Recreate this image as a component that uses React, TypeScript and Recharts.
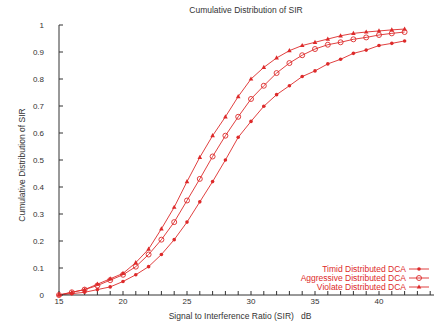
import React from "react";
import { LineChart, Line, XAxis, YAxis } from "recharts";

const sir = [15, 16, 17, 18, 19, 20, 21, 22, 23, 24, 25, 26, 27, 28, 29, 30, 31, 32, 33, 34, 35, 36, 37, 38, 39, 40, 41, 42];

const timid = [0, 0.005, 0.01, 0.02, 0.03, 0.05, 0.075, 0.105, 0.15, 0.205, 0.27, 0.345, 0.42, 0.5, 0.584, 0.643, 0.699, 0.742, 0.775, 0.809, 0.83, 0.856, 0.873, 0.895, 0.907, 0.924, 0.932, 0.941];
const aggressive = [0, 0.01, 0.02, 0.035, 0.055, 0.075, 0.105, 0.15, 0.205, 0.27, 0.35, 0.43, 0.513, 0.59, 0.66, 0.726, 0.775, 0.822, 0.859, 0.888, 0.911, 0.927, 0.936, 0.947, 0.954, 0.963, 0.969, 0.974];
const violate = [0, 0.01, 0.02, 0.04, 0.06, 0.08, 0.12, 0.17, 0.245, 0.325, 0.42, 0.51, 0.59, 0.66, 0.735, 0.8, 0.843, 0.878, 0.905, 0.924, 0.936, 0.948, 0.96, 0.969, 0.974, 0.978, 0.982, 0.985];

const xTicks = [15, 16, 17, 18, 19, 20, 21, 22, 23, 24, 25, 26, 27, 28, 29, 30, 31, 32, 33, 34, 35, 36, 37, 38, 39, 40, 41, 42, 43, 44, 45];
const xLabels = [15, 20, 25, 30, 35, 40];
const yTicks = [0, 0.1, 0.2, 0.3, 0.4, 0.5, 0.6, 0.7, 0.8, 0.9, 1];

const RED = "#dd2a2a";
const FONT = "'Liberation Sans', Arial, sans-serif";

const data = sir.map((x, i) => ({
  x,
  timid: timid[i],
  aggressive: aggressive[i],
  violate: violate[i],
}));

const DotFilled = (props: any) => {
  const { cx, cy } = props;
  return <circle cx={cx} cy={cy} r={1.8} fill={RED} stroke="none" />;
};

const DotOpen = (props: any) => {
  const { cx, cy } = props;
  return <circle cx={cx} cy={cy} r={2.5} fill="none" stroke={RED} strokeWidth={0.9} />;
};

const DotTriangle = (props: any) => {
  const { cx, cy } = props;
  return (
    <polygon
      points={`${cx},${cy - 2.6} ${cx - 2.3},${cy + 1.6} ${cx + 2.3},${cy + 1.6}`}
      fill={RED}
      stroke="none"
    />
  );
};

const legendRows = [
  { label: "Timid Distributed DCA", kind: "filled", y: 269 },
  { label: "Aggressive Distributed DCA", kind: "open", y: 278 },
  { label: "Violate Distributed DCA", kind: "tri", y: 287 },
];

export default function App() {
  const tickStyle = { fontSize: 8, fill: "#333", fontFamily: FONT };
  return (
    <div style={{ position: "absolute", left: 0, top: 0, width: 434, height: 327, overflow: "hidden", background: "white", fontFamily: FONT }}>
      <LineChart
        width={446}
        height={327}
        data={data}
        margin={{ top: 25, right: 3, bottom: 0, left: 0 }}
      >
        <XAxis
          dataKey="x"
          type="number"
          domain={[15, 45]}
          ticks={xTicks}
          interval={0}
          tickFormatter={(v: number) => (xLabels.includes(v) ? String(v) : "")}
          tick={tickStyle}
          tickSize={-4}
          tickMargin={7}
          stroke="#333"
          height={32}
        />
        <XAxis
          xAxisId="top"
          dataKey="x"
          type="number"
          orientation="top"
          domain={[15, 45]}
          ticks={xTicks}
          interval={0}
          tick={false}
          tickSize={-4}
          stroke="#333"
          height={0}
        />
        <YAxis
          type="number"
          domain={[0, 1]}
          ticks={yTicks}
          interval={0}
          tick={tickStyle}
          tickSize={-4}
          tickMargin={19}
          stroke="#333"
          width={59}
        />
        <Line dataKey="timid" stroke={RED} strokeWidth={0.9} dot={<DotFilled />} isAnimationActive={false} />
        <Line dataKey="aggressive" stroke={RED} strokeWidth={0.9} dot={<DotOpen />} isAnimationActive={false} />
        <Line dataKey="violate" stroke={RED} strokeWidth={0.9} dot={<DotTriangle />} isAnimationActive={false} />
      </LineChart>

      <div style={{ position: "absolute", left: 0, width: 492, top: 5, textAlign: "center", fontSize: 8.5, color: "#333" }}>
        Cumulative Distribution of SIR
      </div>
      <div style={{ position: "absolute", left: 120, width: 240, top: 311, textAlign: "center", fontSize: 8.5, color: "#333", whiteSpace: "pre" }}>
        {"Signal to Interference Ratio (SIR)   dB"}
      </div>
      <div
        style={{
          position: "absolute",
          left: 22 - 100,
          top: 165 - 6,
          width: 200,
          height: 12,
          lineHeight: "12px",
          textAlign: "center",
          fontSize: 8.5,
          color: "#333",
          transform: "rotate(-90deg)",
        }}
      >
        Cumulative Distribution of SIR
      </div>

      <svg style={{ position: "absolute", left: 0, top: 0 }} width={434} height={327}>
        {legendRows.map((r) => (
          <g key={r.label}>
            <text x={406} y={r.y + 3} textAnchor="end" fontSize={8.5} fill={RED} fontFamily={FONT}>
              {r.label}
            </text>
            <line x1={409} x2={429} y1={r.y} y2={r.y} stroke={RED} strokeWidth={0.9} />
            {r.kind === "filled" && <DotFilled cx={419} cy={r.y} />}
            {r.kind === "open" && <DotOpen cx={419} cy={r.y} />}
            {r.kind === "tri" && <DotTriangle cx={419} cy={r.y} />}
          </g>
        ))}
      </svg>
    </div>
  );
}
